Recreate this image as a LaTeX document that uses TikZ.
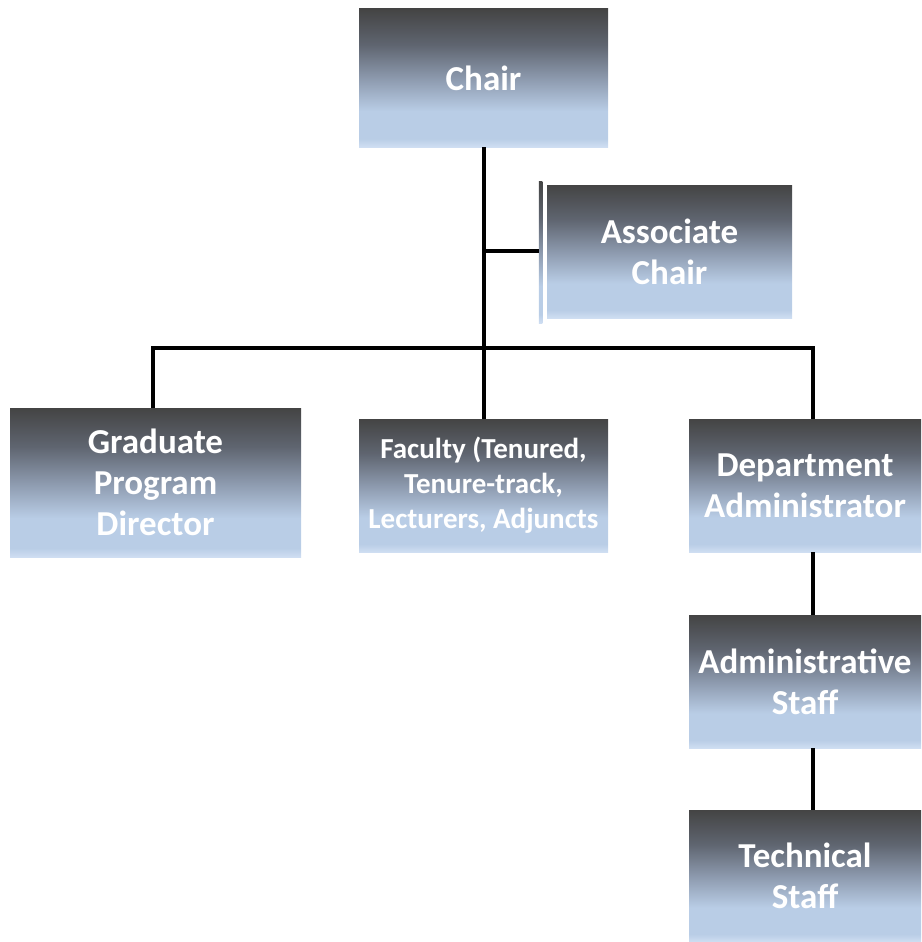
\documentclass[tikz,border=0pt]{standalone}
\usepackage{fontspec}
\setmainfont{Carlito}
\definecolor{lightbot}{HTML}{CFDEF2}
\definecolor{lightmid}{HTML}{B9CDE6}
\definecolor{midgray}{HTML}{8C99AD}
\definecolor{uppergray}{HTML}{5F6570}
\definecolor{darktop}{HTML}{444444}
\pgfdeclareverticalshading{orgshade}{100bp}{%
  color(0bp)=(lightbot);
  color(25bp)=(lightbot);
  color(28bp)=(lightmid);
  color(38bp)=(lightmid);
  color(50bp)=(midgray);
  color(62bp)=(uppergray);
  color(75bp)=(darktop);
  color(100bp)=(darktop)}
\tikzset{
  orgbox/.style={shading=orgshade, draw=none, rectangle, align=center,
    text=white, font=\bfseries\fontsize{35}{41}\selectfont, inner sep=0pt},
  smalltext/.style={font=\bfseries\fontsize{29}{35}\selectfont},
  conn/.style={line width=4pt, black},
  sidebar/.style={shading=orgshade, draw=none, rectangle, inner sep=0pt,
    minimum width=3.5pt, minimum height=142pt}
}
\begin{document}
\begin{tikzpicture}[x=1pt,y=-1pt]
\useasboundingbox (0,0) rectangle (921,942);
% boxes
\node[orgbox, minimum width=249pt, minimum height=138pt] (chair) at (483.5,78) {Chair};
\node[orgbox, minimum width=245pt, minimum height=133pt] (assoc) at (669.5,251.5) {Associate\\Chair};
\node[sidebar] (abar) at (540.5,252) {};
\node[orgbox, minimum width=291pt, minimum height=149pt] (grad) at (155.5,482.5) {Graduate\\Program\\Director};
\node[orgbox, smalltext, minimum width=249pt, minimum height=133pt] (fac) at (483.5,485.5) {Faculty (Tenured,\\Tenure-track,\\Lecturers, Adjuncts};
\node[orgbox, minimum width=232pt, minimum height=133pt] (dept) at (805,485.5) {Department\\Administrator};
\node[orgbox, minimum width=232pt, minimum height=133pt] (adm) at (805,681.5) {Administrative\\Staff};
\node[orgbox, minimum width=232pt, minimum height=132pt] (tech) at (805,876) {Technical\\Staff};
% connectors
\coordinate (xg) at (153,0);
\coordinate (xd) at (813,0);
\coordinate (j) at (483.5,348);
\coordinate (ja) at (483.5,251);
\draw[conn] (chair.south) -- (fac.north);
\draw[conn] (ja) -- (abar.west |- ja);
\draw[conn] (grad.north -| xg) |- (j) -| (dept.north -| xd);
\draw[conn] (dept.south -| xd) -- (adm.north -| xd);
\draw[conn] (adm.south -| xd) -- (tech.north -| xd);
\end{tikzpicture}
\end{document}
